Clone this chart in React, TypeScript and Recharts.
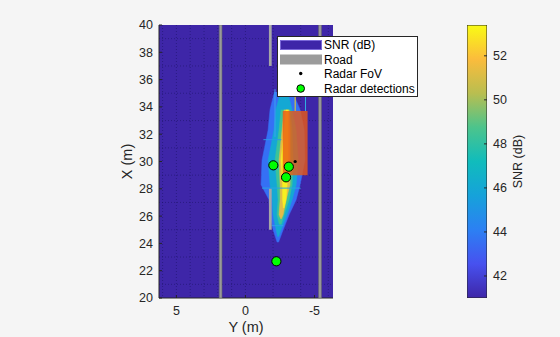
import React from 'react';
import {
  ComposedChart,
  XAxis,
  YAxis,
  Scatter,
  ReferenceArea,
  CartesianGrid,
  Legend,
  Label,
} from 'recharts';

// ---------- axes ----------
const latDomain: [number, number] = [-6.34, 6.26];
const lonDomain: [number, number] = [20, 40];
const latTicks = [-5, 0, 5];
const lonTicks = [20, 22, 24, 26, 28, 30, 32, 34, 36, 38, 40];
const latGrid = [-6, -5, -4, -3, -2, -1, 0, 1, 2, 3, 4, 5, 6];
const lonGrid = [21, 22, 23, 24, 25, 26, 27, 28, 29, 30, 31, 32, 33, 34, 35, 36, 37, 38, 39];

// ---------- colorbar ----------
const snrDomain: [number, number] = [41, 53.4];
const snrTicks = [42, 44, 46, 48, 50, 52];
const parulaStops = ['#3e26a8', '#4751ef', '#2c80f3', '#16a2da', '#10bcbc', '#4cc48c', '#b9be50', '#fbbc3c', '#f9fb14'];

// ---------- SNR heat (contour bands: rows of X, lateral bounds) ----------
const band1X = [35.1, 33.8, 32.3, 30.1, 28.3, 27.2, 26.1, 25.0, 24.1];
const band1L = [-2.1, -1.78, -1.64, -1.2, -1.13, -1.71, -1.78, -2.0, -2.29];
const band1R = [-3.4, -3.96, -4.25, -4.3, -3.96, -3.67, -3.16, -2.73, -2.4];

const band2X = [34.9, 33.8, 32.3, 30.1, 28.3, 27.2, 26.1, 25.0, 24.5];
const band2L = [-2.5, -2.2, -2.07, -1.64, -1.78, -1.93, -2.0, -2.22, -2.33];
const band2R = [-3.1, -3.38, -3.67, -3.82, -3.67, -3.38, -3.02, -2.58, -2.4];

const band3X = [33.8, 32.3, 30.1, 28.3, 27.2, 26.1, 25.4];
const band3L = [-2.58, -2.43, -2.14, -2.29, -2.36, -2.29, -2.45];
const band3R = [-3.23, -3.38, -3.45, -3.38, -3.16, -2.8, -2.6];

const band4X = [33.8, 32.3, 30.1, 28.3, 27.2, 26.1, 25.8];
const band4L = [-2.8, -2.65, -2.43, -2.51, -2.51, -2.43, -2.55];
const band4R = [-3.16, -3.23, -3.23, -3.23, -2.95, -2.73, -2.6];

const band5X = [33.8, 32.3, 30.1, 28.3, 27.2, 26.6];
const band5L = [-2.94, -2.8, -2.58, -2.69, -2.69, -2.75];
const band5R = [-3.09, -3.09, -3.09, -3.02, -2.94, -2.8];

const bandColors = ['#3570f5', '#14a8d4', '#3cc398', '#e0bc48', '#f8f020'];

// thin mesh artefact lines: [lat1, lon1, lat2, lon2]
const artefactLines: [number, number, number, number][] = [
  [-1.2, 28.05, -4.0, 28.05],
  [-1.3, 31.6, -2.6, 31.6],
  [-1.9, 25.3, -2.75, 25.3],
  [-2.14, 31.8, -2.14, 35.3],
  [-3.6, 33.7, -3.6, 35.0],
  [-4.35, 33.7, -4.35, 34.9],
];
const artefactColors = ['#2aa4e4', '#2a9ae8', '#30a0e8', '#3aa0f0', '#f0d020', '#30b0e0'];

// ---------- road ----------
const solidLaneLat = [1.8, -5.4];
const dashedLaneLat = -1.8;
const dashedSegments: [number, number][] = [[25, 28], [37, 40]];
const laneHalfWidth = 0.1;

// ---------- vehicle ----------
const carLat: [number, number] = [-2.7, -4.5];
const carLon: [number, number] = [29.0, 33.7];

// ---------- radar ----------
const fovPoints = [{ ym: -3.6, xm: 30.0 }];
const detLat = [-2.02, -3.14, -2.94, -2.24];
const detLon = [29.72, 29.62, 28.84, 22.69];
const detections = detLat.map((ym, i) => ({ ym, xm: detLon[i] }));

const legendItems = ['SNR (dB)', 'Road', 'Radar FoV', 'Radar detections'];

const FONT = '"Liberation Sans", Arial, Helvetica, sans-serif';
const TXT = '#262626';

function bandPolygon(xs: number[], ls: number[], rs: number[]) {
  const left = xs.map((xm, i) => ({ ym: ls[i], xm }));
  const right = xs.map((xm, i) => ({ ym: rs[i], xm })).reverse();
  return [...left, ...right];
}

const bands = [
  bandPolygon(band1X, band1L, band1R),
  bandPolygon(band2X, band2L, band2R),
  bandPolygon(band3X, band3L, band3R),
  bandPolygon(band4X, band4L, band4R),
  bandPolygon(band5X, band5L, band5R),
];

const colorbarRect = [
  { c: 0, s: snrDomain[0] },
  { c: 1, s: snrDomain[0] },
  { c: 1, s: snrDomain[1] },
  { c: 0, s: snrDomain[1] },
  { c: 0, s: snrDomain[0] },
];

const Empty = () => <g />;

const LegendBox = () => (
  <svg width={141} height={61} style={{ display: 'block', fontFamily: FONT }}>
    <rect x={0.5} y={0.5} width={140} height={60} fill="#ffffff" stroke={TXT} strokeWidth={1} />
    <rect x={3.5} y={4.5} width={41} height={9} fill="#3e26a8" stroke="#7a68d8" strokeWidth={1} />
    <rect x={3} y={18.5} width={42} height={10} fill="#9b9b9b" />
    <circle cx={23.7} cy={37.5} r={1.7} fill="#000" />
    <circle cx={23.7} cy={52.5} r={3.8} fill="#00ff00" stroke="#000" strokeWidth={1} />
    {legendItems.map((t, i) => (
      <text key={t} x={47} y={9 + i * 14.6} dominantBaseline="central" fontSize={12} fill="#000">
        {t}
      </text>
    ))}
  </svg>
);

export default function App() {
  return (
    <div style={{ position: 'relative', width: 560, height: 337, background: '#f5f5f5', fontFamily: FONT }}>
      <style>{`body{margin:0;background:#f5f5f5;}`}</style>
      <svg width={0} height={0} style={{ position: 'absolute' }}>
        <defs>
          <linearGradient id="parula" x1="0" y1="1" x2="0" y2="0">
            {parulaStops.map((c, i) => (
              <stop key={i} offset={`${(i / (parulaStops.length - 1)) * 100}%`} stopColor={c} />
            ))}
          </linearGradient>
        </defs>
      </svg>
      <div style={{ position: 'absolute', left: 0, top: 0 }}>
        <ComposedChart width={560} height={337} margin={{ top: 25, right: 227, bottom: 0, left: 95 }}>
          <CartesianGrid
            fill="#3e26a8"
            fillOpacity={1}
            stroke="#1c1466"
            strokeOpacity={0.55}
            strokeDasharray="1 2"
            verticalValues={latGrid}
            horizontalValues={lonGrid}
          />
          <XAxis
            type="number"
            dataKey="ym"
            domain={latDomain}
            reversed
            allowDataOverflow
            ticks={latTicks}
            height={39}
            tickSize={-3}
            tickMargin={11}
            stroke={TXT}
            tick={{ fill: TXT, fontSize: 12.5, fontFamily: FONT }}
          >
            <Label value="Y (m)" position="insideBottom" offset={5} fill={TXT} fontSize={14.5} fontFamily={FONT} />
          </XAxis>
          <YAxis
            type="number"
            dataKey="xm"
            domain={lonDomain}
            allowDataOverflow
            ticks={lonTicks}
            width={64}
            tickSize={-3}
            tickMargin={9}
            stroke={TXT}
            tick={{ fill: TXT, fontSize: 12.5, fontFamily: FONT }}
          >
            <Label value="X (m)" position="center" angle={-90} fill={TXT} fontSize={14.5} fontFamily={FONT} />
          </YAxis>

          {bands.map((poly, i) => (
            <Scatter
              key={'band' + i}
              data={poly}
              line={{ fill: bandColors[i], stroke: bandColors[i], strokeWidth: 0.5 }}
              lineType="joint"
              shape={Empty}
              isAnimationActive={false}
              legendType="none"
              zIndex={610 + i}
            />
          ))}

          {artefactLines.map((s, i) => (
            <Scatter
              key={'art' + i}
              data={[{ ym: s[0], xm: s[1] }, { ym: s[2], xm: s[3] }]}
              line={{ stroke: artefactColors[i], strokeWidth: 1, fill: 'none' }}
              lineType="joint"
              shape={Empty}
              isAnimationActive={false}
              legendType="none"
              zIndex={620}
            />
          ))}

          {solidLaneLat.map((lat) => (
            <ReferenceArea
              key={'lane' + lat}
              x1={lat - laneHalfWidth}
              x2={lat + laneHalfWidth}
              y1={lonDomain[0]}
              y2={lonDomain[1]}
              fill="#9a9a9a"
              fillOpacity={1}
              stroke="#6a6a6a"
              strokeWidth={0.6}
              ifOverflow="hidden"
              zIndex={630}
            />
          ))}
          {dashedSegments.map((seg) => (
            <ReferenceArea
              key={'dash' + seg[0]}
              x1={dashedLaneLat - laneHalfWidth}
              x2={dashedLaneLat + laneHalfWidth}
              y1={seg[0]}
              y2={seg[1]}
              fill="#a6a6a6"
              fillOpacity={1}
              ifOverflow="hidden"
              zIndex={630}
            />
          ))}

          <ReferenceArea
            x1={carLat[0]}
            x2={carLat[1]}
            y1={carLon[0]}
            y2={carLon[1]}
            fill="#ea5a14"
            fillOpacity={0.8}
            stroke="none"
            zIndex={640}
          />

          <Scatter
            data={fovPoints}
            shape={(p: any) => <circle cx={p.cx} cy={p.cy} r={1.6} fill="#000" />}
            isAnimationActive={false}
            legendType="none"
            zIndex={650}
          />
          <Scatter
            data={detections}
            shape={(p: any) => (
              <circle cx={p.cx} cy={p.cy} r={4.6} fill="#00ff00" stroke="#000" strokeWidth={1} />
            )}
            isAnimationActive={false}
            legendType="none"
            zIndex={660}
          />

          <Legend
            layout="vertical"
            align="center"
            verticalAlign="middle"
            content={() => <LegendBox />}
            wrapperStyle={{ left: 277, top: 36, width: 141, height: 61, right: 'auto', bottom: 'auto' }}
          />
        </ComposedChart>
      </div>

      <div style={{ position: 'absolute', left: 467, top: 0 }}>
        <ComposedChart width={93} height={337} margin={{ top: 25, right: 11, bottom: 39, left: 0 }}>
          <XAxis type="number" dataKey="c" domain={[0, 1]} hide allowDataOverflow />
          <YAxis
            type="number"
            dataKey="s"
            orientation="right"
            domain={snrDomain}
            allowDataOverflow
            ticks={snrTicks}
            width={62}
            tickSize={-3}
            tickMargin={9}
            stroke={TXT}
            axisLine={false}
            tick={{ fill: TXT, fontSize: 12.5, fontFamily: FONT }}
          >
            <Label value="SNR (dB)" position="center" angle={-90} fill={TXT} fontSize={12.5} fontFamily={FONT} />
          </YAxis>
          <Scatter
            data={colorbarRect}
            line={{ fill: 'url(#parula)', stroke: TXT, strokeWidth: 1 }}
            lineType="joint"
            shape={Empty}
            isAnimationActive={false}
            legendType="none"
            zIndex={100}
          />
        </ComposedChart>
      </div>
    </div>
  );
}
